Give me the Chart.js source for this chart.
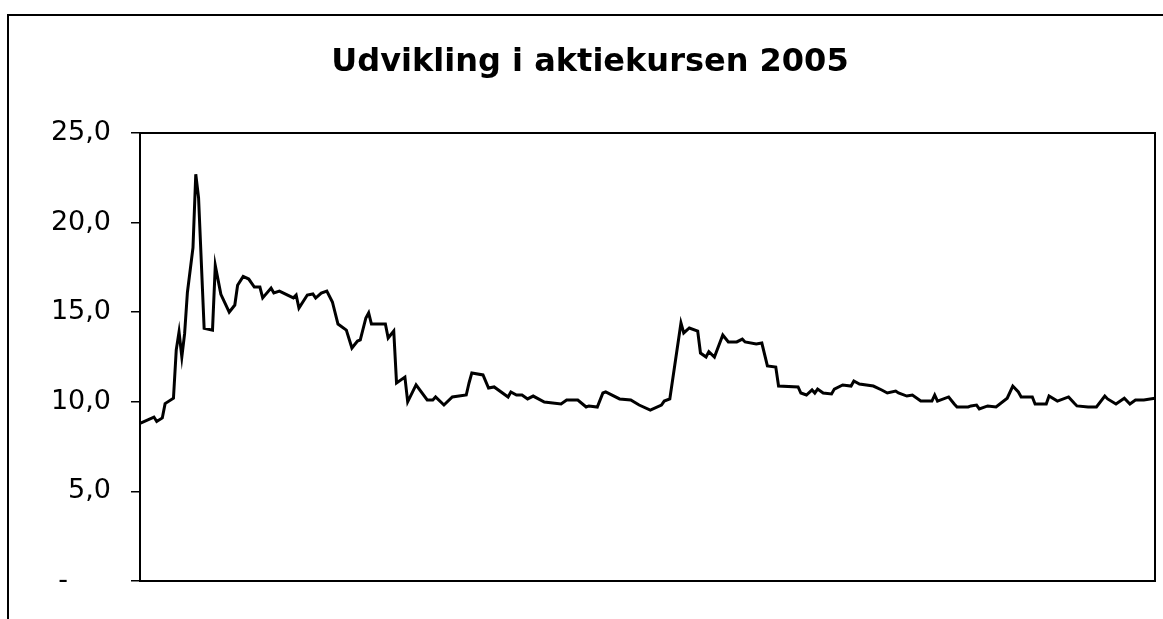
<!DOCTYPE html>
<html>
<head>
<meta charset="utf-8">
<script src="https://cdn.jsdelivr.net/npm/chart.js@4"></script>
<style>
  html, body { margin: 0; padding: 0; background: #fff; }
  #wrap { position: relative; width: 1163px; height: 619px; }
  #frame { position: absolute; left: 7px; top: 14px; right: -4px; bottom: -4px;
           border-top: 2px solid #000; border-left: 2px solid #000; pointer-events: none; }
</style>
</head>
<body>
<div id="wrap">
  <canvas id="kursChart" width="1163" height="619"></canvas>
  <div id="frame"></div>
</div>
<script>
// Aktiekurs 2005, aflaest fra billedet (dag i aaret, kurs)
const dage = [0, 5, 6, 8, 9, 12, 13, 14, 15, 16, 17, 19, 20, 21, 23, 26, 27, 29, 32, 34,
  35, 37, 39, 41, 43, 44, 47, 48, 50, 55, 56, 57, 60, 62, 63, 65, 67, 69, 71, 74,
  76, 78, 79, 81, 82, 83, 88, 89, 91, 92, 95, 96, 99, 103, 105, 106, 109, 112, 117, 118,
  119, 123, 125, 127, 132, 133, 135, 137, 139, 141, 145, 151, 153, 157, 160, 161, 164, 166, 167, 172,
  176, 179, 183, 187, 188, 190, 194, 195, 197, 200, 201, 203, 204, 206, 209, 211, 214, 216, 217, 221,
  223, 225, 228, 229, 236, 237, 239, 241, 242, 243, 245, 248, 249, 252, 255, 256, 258, 263, 266, 268,
  271, 272, 275, 277, 280, 284, 285, 286, 290, 292, 293, 297, 298, 300, 301, 304, 307, 311, 313, 315,
  316, 320, 321, 325, 326, 329, 333, 335, 336, 340, 343, 346, 347, 350, 353, 355, 357, 360, 364];

const kurs = [8.8, 9.15, 8.9, 9.1, 9.9, 10.2, 12.9, 13.9, 12.5, 13.8, 16.1, 18.6, 22.7, 21.4, 14.1, 14.0, 17.6, 16.0, 15.0, 15.4,
  16.5, 17.0, 16.85, 16.4, 16.4, 15.8, 16.35, 16.07, 16.18, 15.8, 15.96, 15.23, 15.96, 16.02, 15.79, 16.07, 16.18, 15.57, 14.34, 14.0,
  13.0, 13.39, 13.45, 14.68, 14.96, 14.34, 14.34, 13.56, 13.95, 11.05, 11.38, 10.0, 10.94, 10.1, 10.1, 10.27, 9.82, 10.27, 10.38, 11.05,
  11.61, 11.5, 10.77, 10.83, 10.27, 10.55, 10.38, 10.38, 10.16, 10.32, 9.99, 9.88, 10.1, 10.1, 9.71, 9.77, 9.71, 10.49, 10.55, 10.16,
  10.1, 9.82, 9.54, 9.82, 10.04, 10.16, 14.4, 13.84, 14.12, 13.95, 12.72, 12.5, 12.8, 12.5, 13.73, 13.34, 13.34, 13.5, 13.34, 13.23,
  13.28, 12.0, 11.94, 10.88, 10.83, 10.49, 10.38, 10.66, 10.49, 10.71, 10.49, 10.44, 10.71, 10.94, 10.88, 11.16, 10.99, 10.88, 10.66, 10.49,
  10.6, 10.49, 10.32, 10.38, 10.04, 10.04, 10.38, 10.04, 10.27, 9.88, 9.71, 9.71, 9.77, 9.82, 9.6, 9.77, 9.71, 10.2, 10.88, 10.55,
  10.27, 10.27, 9.88, 9.88, 10.32, 10.04, 10.27, 9.93, 9.77, 9.71, 9.71, 10.32, 10.16, 9.88, 10.2, 9.88, 10.1, 10.1, 10.2];

const yTicks = [0, 5, 10, 15, 20, 25];

Chart.defaults.font.family = "'DejaVu Sans', Verdana, sans-serif";
Chart.defaults.color = "#000";

// ramme om plotomraadet
const plotFrame = {
  id: "plotFrame",
  afterDraw(chart) {
    const a = chart.chartArea;
    const ctx = chart.ctx;
    ctx.save();
    ctx.strokeStyle = "#000";
    ctx.lineWidth = 2;
    ctx.strokeRect(a.left, a.top, a.right - a.left, a.bottom - a.top);
    ctx.restore();
  }
};

new Chart(document.getElementById("kursChart"), {
  type: "line",
  data: {
    datasets: [{
      data: dage.map((d, i) => ({ x: d, y: kurs[i] })),
      borderColor: "#000",
      borderWidth: 3,
      pointRadius: 0,
      tension: 0,
      fill: false
    }]
  },
  options: {
    responsive: false,
    animation: false,
    layout: { padding: { left: 25, right: 8, top: 0, bottom: 38 } },
    plugins: {
      legend: { display: false },
      tooltip: { enabled: false },
      title: {
        display: true,
        text: "Udvikling i aktiekursen 2005",
        color: "#000",
        font: { size: 32, weight: "bold" },
        padding: { top: 43, bottom: 51.6 }
      }
    },
    scales: {
      x: {
        type: "linear",
        min: 0,
        max: 364,
        grid: { display: false },
        ticks: { display: false },
        border: { display: false },
        afterFit: s => { s.height = 0; }
      },
      y: {
        min: 0,
        max: 25,
        afterBuildTicks: s => { s.ticks = yTicks.map(v => ({ value: v })); },
        afterFit: s => { s.width = 115; },
        grid: {
          drawOnChartArea: false,
          drawTicks: true,
          tickLength: 9,
          color: "#000",
          lineWidth: 1.5
        },
        border: { display: false },
        ticks: {
          padding: 20,
          color: "#000",
          font: { size: 27 },
          callback: v => v === 0 ? "-     " : v.toFixed(1).replace(".", ",")
        }
      }
    }
  },
  plugins: [plotFrame]
});
</script>
</body>
</html>
